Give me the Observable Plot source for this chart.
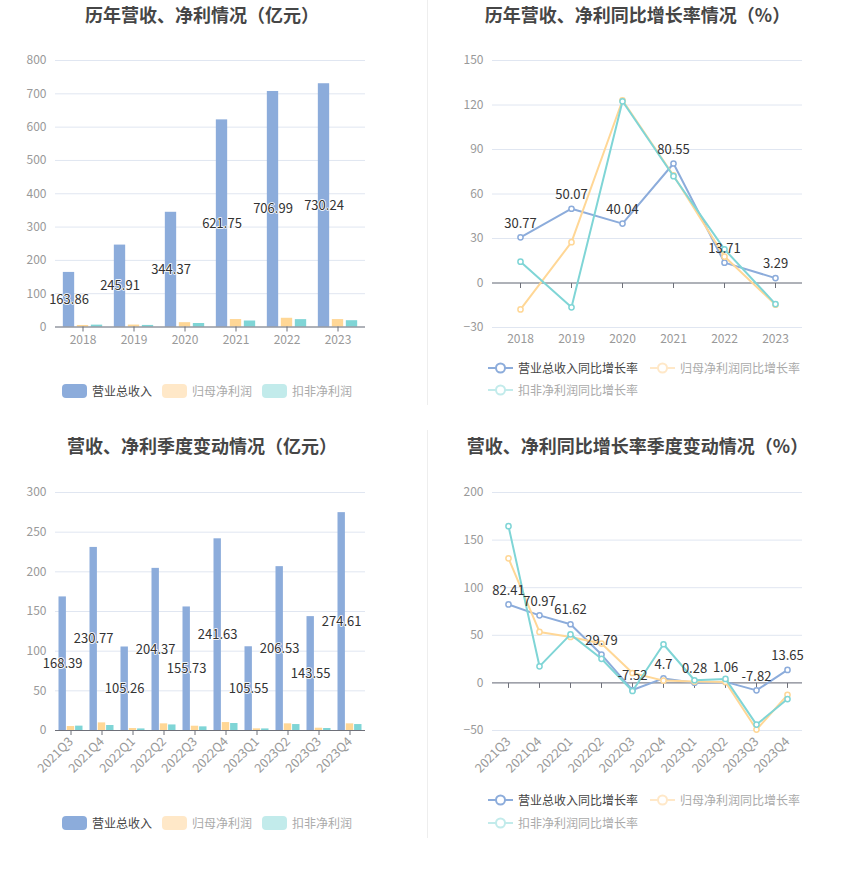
<!DOCTYPE html>
<html>
<head>
<meta charset="utf-8">
<script src="https://cdn.jsdelivr.net/npm/d3@7"></script>
<script src="https://cdn.jsdelivr.net/npm/@observablehq/plot@0.6"></script>
<style>
  body { margin: 0; background: #fff; }
  #root { position: relative; width: 850px; height: 869px; background: #fff; font-family: "Noto Sans CJK SC", "Noto Sans", sans-serif; overflow: hidden; }
  .title { position: absolute; text-align: center; font-size: 18px; font-weight: bold; color: #464646; line-height: 24px; white-space: nowrap; }
  .chart { position: absolute; }
  .chart svg { overflow: visible; }
  .leg { position: absolute; display: flex; align-items: center; font-size: 12px; white-space: nowrap; line-height: 14px; }
  .sw { width: 25px; height: 14px; border-radius: 4px; margin-right: 5px; }
  .sep { position: absolute; width: 1px; background: #eeeeee; }
</style>
</head>
<body>
<div id="root"></div>
<script>
// ---------------- data ----------------
const years = ["2018", "2019", "2020", "2021", "2022", "2023"];
const revenue = [163.86, 245.91, 344.37, 621.75, 706.99, 730.24];
const netProfit = [4.6, 5.8, 13.0, 22.4, 26.2, 22.3];
const deductedProfit = [5.6, 4.7, 10.5, 18.0, 22.1, 18.9];

const revenueGrowth = [30.77, 50.07, 40.04, 80.55, 13.71, 3.29];
const netProfitGrowth = [-17.8, 27.5, 123.2, 72.5, 17.8, -14.6];
const deductedGrowth = [14.4, -16.4, 122.5, 72.0, 22.7, -14.2];

const quarters = ["2021Q3", "2021Q4", "2022Q1", "2022Q2", "2022Q3", "2022Q4", "2023Q1", "2023Q2", "2023Q3", "2023Q4"];
const qRevenue = [168.39, 230.77, 105.26, 204.37, 155.73, 241.63, 105.55, 206.53, 143.55, 274.61];
const qNetProfit = [5.0, 9.6, 2.5, 8.4, 5.4, 10.0, 2.1, 8.4, 2.9, 8.4];
const qDeducted = [5.5, 6.3, 2.0, 7.0, 4.6, 8.8, 2.0, 7.5, 2.5, 7.5];

const qRevenueGrowth = [82.41, 70.97, 61.62, 29.79, -7.52, 4.7, 0.28, 1.06, -7.82, 13.65];
const qNetProfitGrowth = [130.9, 53.5, 48.3, 41.3, 10.4, 2.4, 1.4, 1.0, -49.0, -12.5];
const qDeductedGrowth = [164.6, 17.4, 51.0, 25.3, -8.5, 40.6, 2.8, 4.2, -43.8, -17.0];

const yTicksYear = [0, 100, 200, 300, 400, 500, 600, 700, 800];
const yTicksYearGrowth = [-30, 0, 30, 60, 90, 120, 150];
const yTicksQuarter = [0, 50, 100, 150, 200, 250, 300];
const yTicksQuarterGrowth = [-50, 0, 50, 100, 150, 200];

const barNames = ["营业总收入", "归母净利润", "扣非净利润"];
const lineNames = ["营业总收入同比增长率", "归母净利润同比增长率", "扣非净利润同比增长率"];

// ---------------- style ----------------
const FONT = '"Noto Sans CJK SC", "Noto Sans", sans-serif';
const BLUE = "#8cacdb", ORANGE = "#ffd796", TEAL = "#7fd5d6";
const BLUE_L = "#8cacdb", ORANGE_L = "#ffe8c8", TEAL_L = "#c2ebeb";
const GRID = "#e0e6f1", AXIS = "#6e7079", TICKTXT = "#999999";

const root = document.getElementById("root");

function addDiv(cls, css, html) {
  const d = document.createElement("div");
  d.className = cls;
  Object.assign(d.style, css);
  if (html != null) d.innerHTML = html;
  root.appendChild(d);
  return d;
}

const tickSymbol = { draw(ctx) { ctx.moveTo(0, 0); ctx.lineTo(0, 5); } };

function barChart({cats, s1, s2, s3, yDomain, yTicks, height, mt, mb, barW, gap, rotate}) {
  const rows = cats.map((c, i) => ({cat: c, a: s1[i], b: s2[i], c: s3[i]}));
  const width = 425, ml = 55, mr = 60;
  const band = (width - ml - mr) / cats.length;
  const inset = (band - barW) / 2;
  const step = barW + gap;
  return Plot.plot({
    width, height, marginTop: mt, marginBottom: mb, marginLeft: ml, marginRight: mr,
    style: {fontFamily: FONT, fontSize: "12px", background: "transparent", overflow: "visible"},
    x: {type: "band", domain: cats, padding: 0, label: null},
    y: {domain: yDomain, label: null},
    marks: [
      Plot.gridY(yTicks, {stroke: GRID, strokeOpacity: 1}),
      Plot.barY(rows, {x: "cat", y: "a", fill: BLUE, insetLeft: inset, insetRight: inset, dx: -step}),
      Plot.barY(rows, {x: "cat", y: "b", fill: ORANGE, insetLeft: inset, insetRight: inset, dx: 0}),
      Plot.barY(rows, {x: "cat", y: "c", fill: TEAL, insetLeft: inset, insetRight: inset, dx: step}),
      Plot.ruleY([0], {stroke: AXIS}),
      Plot.axisY(yTicks, {tickSize: 0, tickPadding: 9, fill: TICKTXT, fontSize: 12, label: null}),
      rotate
        ? Plot.axisX({tickSize: 5, tickPadding: 4, tickRotate: -45, stroke: AXIS, fill: TICKTXT, fontSize: 12.5, label: null})
        : Plot.axisX({tickSize: 5, tickPadding: 3, stroke: AXIS, fill: TICKTXT, fontSize: 12, label: null}),
      Plot.text(rows, {x: "cat", y: d => d.a / 2, text: d => String(d.a), dx: -step,
        fill: "#333", stroke: "white", strokeWidth: 1.5, fontSize: 13})
    ]
  });
}

function lineChart({cats, s1, s2, s3, yDomain, yTicks, height, mt, mb, rotate}) {
  const rows = cats.map((c, i) => ({cat: c, a: s1[i], b: s2[i], c: s3[i]}));
  const width = 425, ml = 67, mr = 48;
  return Plot.plot({
    width, height, marginTop: mt, marginBottom: mb, marginLeft: ml, marginRight: mr,
    style: {fontFamily: FONT, fontSize: "12px", background: "transparent", overflow: "visible"},
    x: {type: "point", domain: cats, padding: 0.5, label: null},
    y: {domain: yDomain, label: null},
    marks: [
      Plot.gridY(yTicks, {stroke: GRID, strokeOpacity: 1}),
      Plot.ruleY([0], {stroke: AXIS}),
      Plot.dot(cats, {x: d => d, y: () => 0, symbol: tickSymbol, r: 1, stroke: AXIS, fill: "none", strokeWidth: 1}),
      Plot.axisY(yTicks, {tickSize: 0, tickPadding: 9, fill: TICKTXT, fontSize: 12, label: null}),
      rotate
        ? Plot.axisX({tickSize: 0, tickPadding: 9, tickRotate: -45, fill: TICKTXT, fontSize: 12.5, label: null})
        : Plot.axisX({tickSize: 0, tickPadding: 7, fill: TICKTXT, fontSize: 12, label: null}),
      Plot.line(rows, {x: "cat", y: "a", stroke: BLUE, strokeWidth: 2}),
      Plot.dot(rows, {x: "cat", y: "a", r: 2.6, fill: "white", stroke: BLUE, strokeWidth: 1.5}),
      Plot.line(rows, {x: "cat", y: "b", stroke: ORANGE, strokeWidth: 2}),
      Plot.dot(rows, {x: "cat", y: "b", r: 2.6, fill: "white", stroke: ORANGE, strokeWidth: 1.5}),
      Plot.line(rows, {x: "cat", y: "c", stroke: TEAL, strokeWidth: 2}),
      Plot.dot(rows, {x: "cat", y: "c", r: 2.6, fill: "white", stroke: TEAL, strokeWidth: 1.5}),
      Plot.text(rows, {x: "cat", y: "a", text: d => String(d.a), dy: -14, fill: "#333", fontSize: 13})
    ]
  });
}

function barLegend(x0, yc) {
  const cols = [BLUE_L, ORANGE_L, TEAL_L];
  const txt = ["#444", "#aaa", "#aaa"];
  barNames.forEach((n, i) => {
    addDiv("leg", {left: (x0 + i * 100) + "px", top: (yc - 7) + "px", color: txt[i]},
      `<div class="sw" style="background:${cols[i]}"></div><span>${n}</span>`);
  });
}

function lineIcon(col) {
  return `<svg width="25" height="14" style="margin-right:5px;overflow:visible"><line x1="0" y1="7" x2="25" y2="7" stroke="${col}" stroke-width="2"/><circle cx="12.5" cy="7" r="4.5" fill="white" stroke="${col}" stroke-width="2"/></svg>`;
}

function lineLegend(x0, y1, y2) {
  const cols = [BLUE, ORANGE_L, TEAL_L];
  const txt = ["#444", "#aaa", "#aaa"];
  const pos = [[x0, y1], [x0 + 162, y1], [x0, y2]];
  lineNames.forEach((n, i) => {
    addDiv("leg", {left: pos[i][0] + "px", top: (pos[i][1] - 7) + "px", color: txt[i]},
      lineIcon(cols[i]) + `<span>${n}</span>`);
  });
}

// separators
addDiv("sep", {left: "427px", top: "0px", height: "405px"});
addDiv("sep", {left: "427px", top: "430px", height: "408px"});

// titles
addDiv("title", {left: "0px", width: "404px", top: "2px"}, "历年营收、净利情况（亿元）");
addDiv("title", {left: "425px", width: "425px", top: "2px"}, "历年营收、净利同比增长率情况（%）");
addDiv("title", {left: "0px", width: "404px", top: "433px"}, "营收、净利季度变动情况（亿元）");
addDiv("title", {left: "425px", width: "425px", top: "433px"}, "营收、净利同比增长率季度变动情况（%）");

// charts
const c1 = addDiv("chart", {left: "0px", top: "40px"});
c1.appendChild(barChart({cats: years, s1: revenue, s2: netProfit, s3: deductedProfit,
  yDomain: [0, 800], yTicks: yTicksYear, height: 320, mt: 20, mb: 33.5, barW: 12, gap: 2, rotate: false}));

const c2 = addDiv("chart", {left: "425px", top: "40px"});
c2.appendChild(lineChart({cats: years, s1: revenueGrowth, s2: netProfitGrowth, s3: deductedGrowth,
  yDomain: [-30, 150], yTicks: yTicksYearGrowth, height: 320, mt: 20, mb: 33, rotate: false}));

const c3 = addDiv("chart", {left: "0px", top: "470px"});
c3.appendChild(barChart({cats: quarters, s1: qRevenue, s2: qNetProfit, s3: qDeducted,
  yDomain: [0, 300], yTicks: yTicksQuarter, height: 310, mt: 22, mb: 50, barW: 7.4, gap: 0.9, rotate: true}));

const c4 = addDiv("chart", {left: "425px", top: "470px"});
c4.appendChild(lineChart({cats: quarters, s1: qRevenueGrowth, s2: qNetProfitGrowth, s3: qDeductedGrowth,
  yDomain: [-50, 200], yTicks: yTicksQuarterGrowth, height: 310, mt: 22, mb: 50, rotate: true}));

// legends
barLegend(62, 391);
lineLegend(488, 368, 390);
barLegend(62, 823);
lineLegend(488, 800, 823);
</script>
</body>
</html>
